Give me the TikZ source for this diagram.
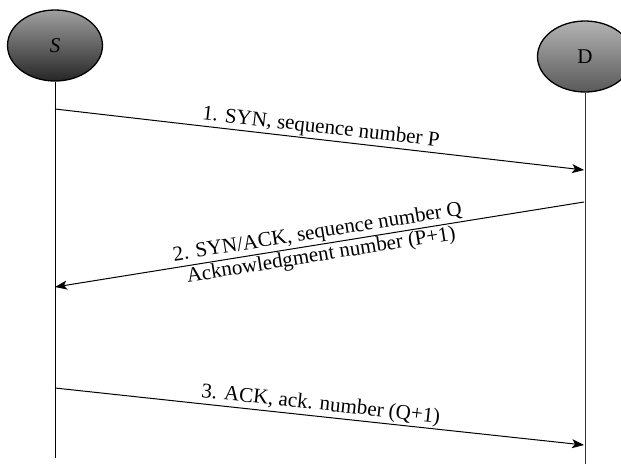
\documentclass[tikz,border=0pt]{standalone}
\usepackage{fontspec}
\setmainfont{Liberation Serif}
\usetikzlibrary{arrows.meta, shapes.geometric}
\begin{document}
\begin{tikzpicture}[x=1pt, y=-1pt, line width=1pt,
		host/.style={draw=black, line width=1.3pt, ellipse, minimum width=95, minimum height=71, font=\fontsize{21}{23}\selectfont},
		msg/.style={-{Stealth[length=12pt, width=9pt, inset=3pt]}},
		lbl/.style={sloped, font=\fontsize{21}{23}\selectfont, inner sep=1.5pt}]
	\useasboundingbox (0,0) rectangle (621,464);

	\node[host, top color=gray!75, bottom color=black!85] (S) at (55,45.5) {\textit{S}};
	\node[host, top color=gray!60, bottom color=black!65] (D) at (585,56.5) {D};

	% lifelines
	\coordinate (Send) at (55,458);
	\coordinate (Dend) at (585,464);
	\draw (S.south) -- (Send);
	\draw[black!80] (D.south) -- (Dend);

	% message points on the lifelines
	\foreach \n/\ys/\yd in {1/109/170, 2/287/202, 3/388/445} {
		\coordinate (s\n) at (55,\ys);
		\coordinate (d\n) at (584,\yd);
	}

	\draw[msg] (s1) -- node[lbl, above] {1. SYN, sequence number P} (d1);
	\draw[msg] (d2) -- node[lbl, above] {2. SYN/ACK, sequence number Q}
		node[lbl, below] {Acknowledgment number (P+1)} (s2);
	\draw[msg] (s3) -- node[lbl, above] {3. ACK, ack. number (Q+1)} (d3);
\end{tikzpicture}
\end{document}
